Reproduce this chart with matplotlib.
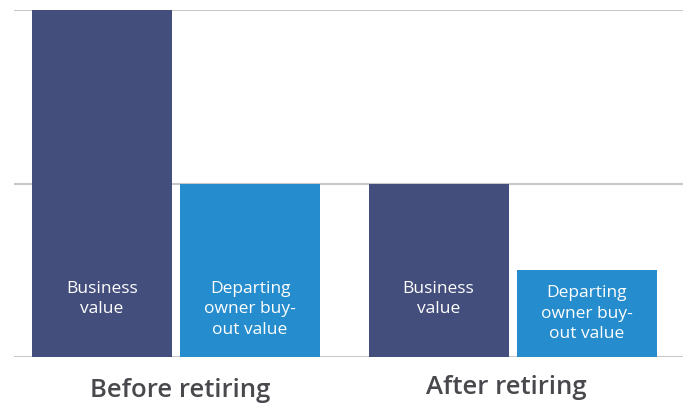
import matplotlib.pyplot as plt

groups = ["Before retiring", "After retiring"]
series_names = ["Business\nvalue", "Departing\nowner buy-\nout value"]
business = [2.0, 1.0]
buyout = [1.0, 0.5]

DARK = "#434e7d"
BLUE = "#258ccd"
GRID = "#c8c8c8"

fig = plt.figure(figsize=(6.83, 4.04), dpi=100)
ax = fig.add_axes([14 / 683, 1 - 357 / 404, 669 / 683, 347 / 404])
ax.set_xlim(14, 683)
ax.set_ylim(0, 2)

group_x = [176, 512.5]
offsets = [-74, 74]
width = 140

for gx, b, d in zip(group_x, business, buyout):
    for off, v, color, name in zip(offsets, [b, d], [DARK, BLUE], series_names):
        x = gx + off
        ax.bar(x, v, width=width, color=color, zorder=3)
        if v > 0.6:
            ax.text(x, 0.44, name, ha="center", va="top", color="white",
                    fontsize=12.5, family="Open Sans", linespacing=1.38, zorder=4)
        else:
            ax.text(x, v / 2, name, ha="center", va="center", color="white",
                    fontsize=12.5, family="Open Sans", linespacing=1.38, zorder=4)

for y in [0, 1, 2]:
    ax.axhline(y, color=GRID, lw=1.5, zorder=1)

label_y = [-0.195, -0.175]
label_dx = [4, -6]
for gx, g, ly, dx in zip(group_x, groups, label_y, label_dx):
    ax.text(gx + dx, ly, g, ha="center", va="center", color="#48484d",
            fontsize=18.5, family="Open Sans", fontweight="semibold")

ax.axis("off")

fig.savefig("out.png", dpi=100)
plt.close(fig)
